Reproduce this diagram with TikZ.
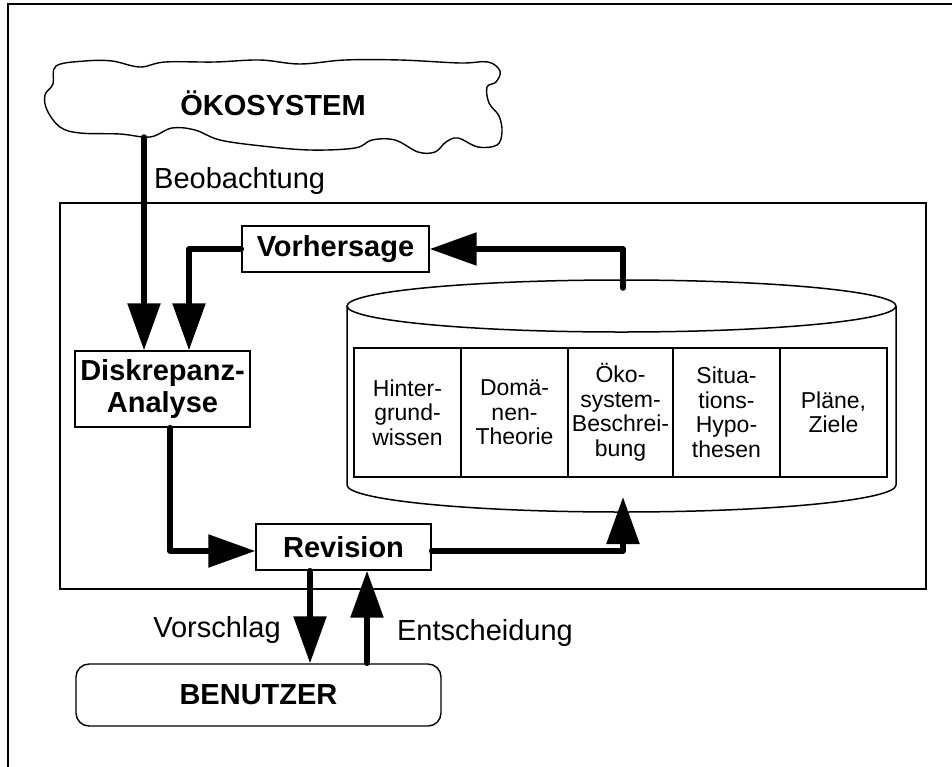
\documentclass[tikz,border=0pt]{standalone}
\usepackage{fontspec}
\setmainfont{Liberation Sans}
\usetikzlibrary{arrows.meta}

\tikzset{
  box/.style={draw, line width=1.4pt, inner sep=0pt, align=center,
              font=\fontsize{29}{32}\selectfont\bfseries},
  cell/.style={draw, line width=1.4pt, inner sep=0pt, align=center,
               minimum height=129pt, font=\fontsize{23}{24.5}\selectfont},
  lbl/.style={inner sep=0pt, font=\fontsize{29}{32}\selectfont},
  flow/.style={line width=5.5pt, line cap=round, line join=round,
               -{Triangle[length=47pt,width=32pt]}},
}

\begin{document}
\begin{tikzpicture}[x=1pt, y=-1pt]
\useasboundingbox (0,0) rectangle (952,766);

% page frame (top and left edges)
\draw[line width=2.6pt] (8,770) -- (8,4) -- (956,4);

% the ecosystem cloud
\draw[line width=1.4pt] plot[smooth cycle, tension=0.6] coordinates {
  (56,66) (85,61) (112,61) (140,67) (165,62) (215,62) (260,60)
  (300,64) (345,60) (400,60) (460,63) (488,62) (500,71) (496,82)
  (487,87) (489,103) (499,116) (502,132) (497,145) (478,147)
  (458,138) (446,142) (435,152) (418,152) (395,140) (372,140)
  (355,148) (310,150) (262,146) (220,140) (195,130) (172,128)
  (150,137) (120,134) (80,133) (60,127) (47,110) (45,95) (53,84)};
\node[lbl, font=\fontsize{29}{32}\selectfont\bfseries] (oeko) at (273,103) {ÖKOSYSTEM};
\coordinate (cloudfoot) at (144,137);

% system boundary
\draw[line width=1.5pt] (60,203) rectangle (926,589);

% knowledge base cylinder
\draw[line width=1.5pt] (347,306) -- (347,485)
  arc[start angle=180, end angle=360, x radius=274.5pt, y radius=27pt]
  -- (896,306);
\draw[line width=1.5pt] (621.5,306) ellipse[x radius=274.5pt, y radius=26pt];
\coordinate (cyltop) at (623,288);
\coordinate (cylbot) at (623,497);

\node[cell, minimum width=107pt] (c1) at (407.5,412.5) {Hinter-\\grund-\\wissen};
\node[cell, minimum width=107pt] (c2) at (514.5,412.5) {Domä-\\nen-\\Theorie};
\node[cell, minimum width=105pt] (c3) at (620.5,412.5) {Öko-\\system-\\Beschrei-\\bung};
\node[cell, minimum width=107pt] (c4) at (726.5,412.5) {Situa-\\tions-\\Hypo-\\thesen};
\node[cell, minimum width=107pt] (c5) at (833.5,412.5) {Pläne,\\Ziele};

% process boxes
\node[box, minimum width=187pt, minimum height=46pt] (vor) at (335.5,249) {Vorhersage};
\node[box, minimum width=175pt, minimum height=76pt] (disk) at (162.5,389) {Diskrepanz-\\Analyse};
\node[box, minimum width=175pt, minimum height=46pt] (rev) at (343.5,547) {Revision};
\node[box, rounded corners=13pt, minimum width=365pt, minimum height=62pt] (ben) at (258.5,695) {BENUTZER};

% flows
\draw[flow] (cloudfoot) -- (cloudfoot |- disk.north);
\draw[flow] (vor.west) -| ([xshift=26.5pt]disk.north);
\draw[flow] (cyltop) |- (vor.east);
\draw[flow] ([xshift=7.5pt]disk.south) |- ([yshift=-4pt]rev.west);
\draw[flow] ([yshift=-4pt]rev.east) -| (cylbot);
\draw[flow] ([xshift=-33.5pt]rev.south) -- ([xshift=-33.5pt]rev.south |- ben.north);
\draw[flow] ([xshift=23.5pt]rev.south |- ben.north) -- ([xshift=23.5pt]rev.south);

% flow labels
\node[lbl, anchor=west] (beob) at (154,181) {Beobachtung};
\node[lbl] (vorschlag) at (217,630) {Vorschlag};
\node[lbl] (entsch) at (485,633) {Entscheidung};
\end{tikzpicture}
\end{document}
